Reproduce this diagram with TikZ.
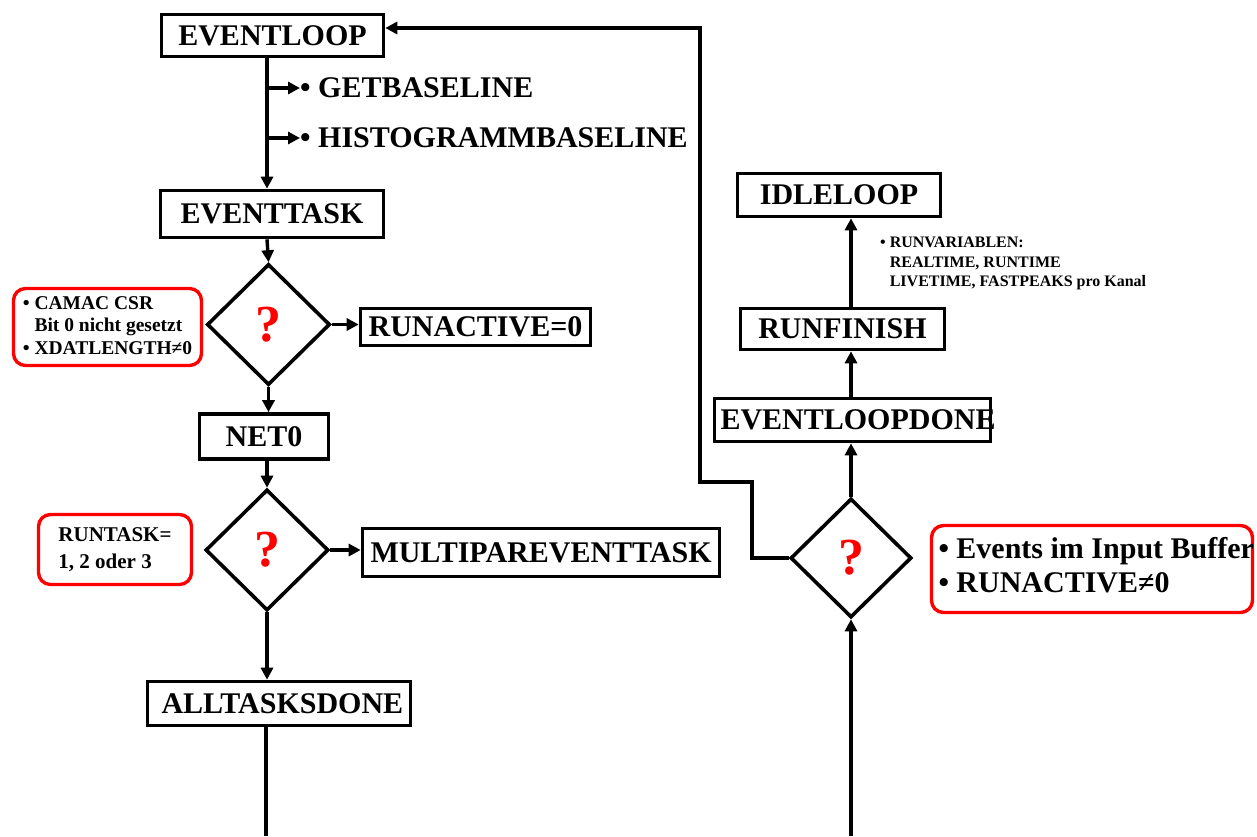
\documentclass[tikz,border=0pt]{standalone}
\usepackage{fontspec}
\setmainfont{Liberation Serif}
\usetikzlibrary{arrows.meta,shapes.geometric}

\begin{document}
\begin{tikzpicture}[x=1pt,y=-1pt,
  every node/.style={font=\bfseries},
  line/.style={line width=3.4pt},
  arr/.style={line width=3.4pt,-{Triangle[length=12pt,width=12pt]}},
  bigtext/.style={font=\fontsize{30}{34}\bfseries\selectfont},
  stepbox/.style={draw,line width=3.6pt,rectangle,inner sep=0pt,bigtext,fill=white},
  cond/.style={draw,diamond,line width=3.6pt,aspect=1,inner sep=0pt,
    minimum width=123pt,minimum height=121pt,text=red,
    font=\fontsize{52}{52}\bfseries\selectfont},
  note/.style={draw=red,line width=3.4pt,rounded corners=12pt,inner sep=0pt}
]
\useasboundingbox (0,0) rectangle (1257,836);

% column guides
\coordinate (colL) at (267,0);
\coordinate (colR) at (851,0);

% left column: event loop
\node[stepbox,minimum width=222pt,minimum height=42pt] (evloop) at (272.5,35.5) {EVENTLOOP};
\node[anchor=west,inner sep=0pt,bigtext] (getbl) at (300,88) {• GETBASELINE};
\node[anchor=west,inner sep=0pt,bigtext] (histbl) at (300,138) {• HISTOGRAMMBASELINE};
\node[stepbox,minimum width=223pt,minimum height=47pt] (evtask) at (272,214) {EVENTTASK};
\node[cond] (d1) at (268.5,324.5) {?};
\node[stepbox,minimum width=230pt,minimum height=37pt] (runact) at (475.5,327) {RUNACTIVE=0};
\node[note,minimum width=188pt,minimum height=77pt,
      font=\fontsize{19.5}{22.5}\bfseries\selectfont] (c1) at (107.5,327)
  {\begin{tabular}{@{}l@{\ }l@{}}•&CAMAC CSR\\&Bit 0 nicht gesetzt\\•&XDATLENGTH≠0\end{tabular}};
\node[stepbox,minimum width=129pt,minimum height=45pt] (net0) at (264,436.5) {NET0};
\node[cond] (d2) at (267,550) {?};
\node[note,minimum width=153pt,minimum height=70pt,
      font=\fontsize{21}{26.5}\bfseries\selectfont] (c2) at (115,549.5)
  {\begin{tabular}{@{}l@{}}RUNTASK=\\1, 2 oder 3\end{tabular}};
\node[stepbox,minimum width=357pt,minimum height=48pt] (multi) at (541,552.5)
  {\makebox[357pt][l]{\hspace*{8pt}MULTIPAREVENTTASK}};
\node[stepbox,minimum width=263pt,minimum height=44pt] (alltasks) at (279,703.5)
  {\makebox[263pt][l]{\hspace*{14pt}ALLTASKSDONE}};

% right column: loop end
\node[cond,minimum width=121pt,minimum height=119pt] (d3) at (851,558) {?};
\node[note,minimum width=321pt,minimum height=87pt,bigtext] (c3) at (1092,569)
  {\makebox[321pt][l]{\hspace*{7pt}\begin{tabular}{@{}l@{\ }l@{}}•&Events im Input Buffer\\•&RUNACTIVE≠0\end{tabular}}};
\node[stepbox,minimum width=276pt,minimum height=43pt] (eld) at (852.5,420)
  {\makebox[276pt][l]{\hspace*{6pt}EVENTLOOPDONE}};
\node[stepbox,minimum width=204pt,minimum height=41pt] (runfin) at (842.5,329) {RUNFINISH};
\node[stepbox,minimum width=203pt,minimum height=43pt] (idle) at (839,195) {IDLELOOP};
\node[anchor=north west,inner sep=0pt,font=\fontsize{16}{19.5}\bfseries\selectfont] (runvar) at (880,234)
  {\begin{tabular}{@{}l@{\ }l@{}}•&RUNVARIABLEN:\\&REALTIME, RUNTIME\\&LIVETIME, FASTPEAKS pro Kanal\end{tabular}};

% connectors, left column
\draw[arr] (evloop.south -| colL) -- (evtask.north -| colL);
\draw[arr] (getbl.west -| colL) -- (getbl.west);
\draw[arr] (histbl.west -| colL) -- (histbl.west);
\draw[arr] (evtask.south -| colL) -- (d1.north);
\draw[arr] (d1.east) -- (d1.east -| runact.west);
\draw[arr] (d1.south) -- (d1.south |- net0.north);
\draw[arr] (net0.south -| d2.north) -- (d2.north);
\draw[arr] (d2.east) -- (d2.east -| multi.west);
\draw[arr] (d2.south) -- (d2.south |- alltasks.north);
\coordinate (lbot) at (266,836);
\draw[line] (alltasks.south -| lbot) -- (lbot);

% connectors, right column
\coordinate (rbot) at (851,836);
\draw[arr] (rbot) -- (d3.south);
\draw[arr] (d3.north) -- (d3.north |- eld.south);
\draw[arr] (eld.north -| colR) -- (runfin.south -| colR);
\draw[arr] (runfin.north -| colR) -- (idle.south -| colR);

% back to the event loop
\coordinate (j1) at (752,482);
\coordinate (j2) at (700,482);
\coordinate (j3) at (700,28);
\draw[arr] (d3.west) -| (j1) -- (j2) -- (j3) -- (j3 -| evloop.east);
\end{tikzpicture}
\end{document}
